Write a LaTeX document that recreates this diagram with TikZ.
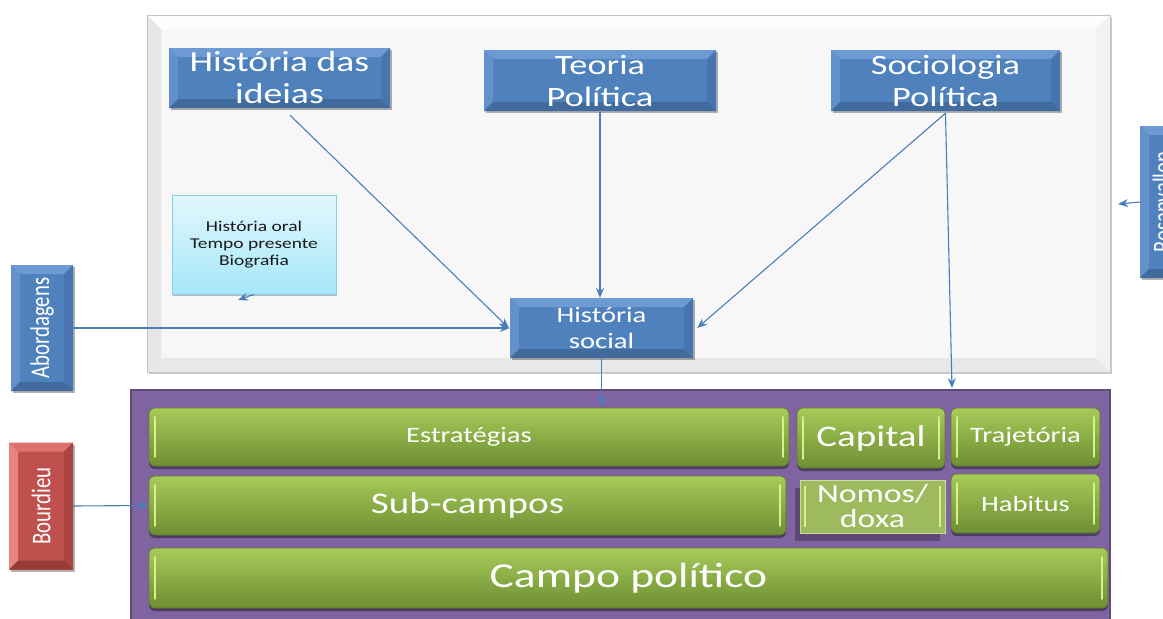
\documentclass[tikz,border=0pt]{standalone}
\usepackage{fontspec}
\setmainfont{Carlito}[FakeStretch=1.3]
\newfontfamily\rotfont{Carlito}[FakeStretch=0.77]
\usetikzlibrary{arrows.meta,calc,shadows}
\definecolor{bluemain}{HTML}{4F81BD}
\definecolor{bluetop}{HTML}{6D9AD3}
\definecolor{blueleft}{HTML}{6490CB}
\definecolor{blueright}{HTML}{4875AF}
\definecolor{bluebot}{HTML}{416A9D}
\definecolor{redmain}{HTML}{C0504D}
\definecolor{redtop}{HTML}{DB726E}
\definecolor{redleft}{HTML}{E8847F}
\definecolor{redright}{HTML}{A94542}
\definecolor{redbot}{HTML}{973A37}
\definecolor{arrowblue}{HTML}{4A7EBB}
\definecolor{greentop}{HTML}{A6CB59}
\definecolor{greenbot}{HTML}{6E8E33}
\definecolor{greenhl}{HTML}{D9F08C}
\definecolor{greenedge}{HTML}{5E7A2B}
\definecolor{nomosfill}{HTML}{9DBB5E}
\definecolor{nomosedge}{HTML}{C9DC98}
\definecolor{purplefill}{HTML}{8064A2}
\definecolor{purpleedge}{HTML}{5F4A7B}
\definecolor{cyantop}{HTML}{E2F7FD}
\definecolor{cyanbot}{HTML}{A6E7F9}
\definecolor{cyanedge}{HTML}{86CFE4}
\definecolor{graymain}{HTML}{F7F7F7}
\definecolor{graytop}{HTML}{FDFDFD}
\definecolor{grayleft}{HTML}{E6E6E6}
\definecolor{grayright}{HTML}{F2F2F2}
\definecolor{graybot}{HTML}{E8E8E8}
\definecolor{grayedge}{HTML}{C4C4C4}
\tikzset{
  bevel/.style n args={6}{fill=#1,
    path picture={
      \coordinate (bvA) at (path picture bounding box.north west);
      \coordinate (bvB) at (path picture bounding box.north east);
      \coordinate (bvC) at (path picture bounding box.south east);
      \coordinate (bvD) at (path picture bounding box.south west);
      \fill[#2] (bvA) -- (bvB) -- ([shift={(-#6,-#6)}]bvB) -- ([shift={(#6,-#6)}]bvA) -- cycle;
      \fill[#3] (bvA) -- ([shift={(#6,-#6)}]bvA) -- ([shift={(#6,#6)}]bvD) -- (bvD) -- cycle;
      \fill[#4] (bvB) -- (bvC) -- ([shift={(-#6,#6)}]bvC) -- ([shift={(-#6,-#6)}]bvB) -- cycle;
      \fill[#5] (bvD) -- (bvC) -- ([shift={(-#6,#6)}]bvC) -- ([shift={(#6,#6)}]bvD) -- cycle;
    }},
  bluebox/.style={bevel={bluemain}{bluetop}{blueleft}{blueright}{bluebot}{9pt},
    inner sep=0pt, text=white, align=center,
    drop shadow={shadow xshift=1.5pt, shadow yshift=-2pt, opacity=0.3, fill=black}},
  redbox/.style={bevel={redmain}{redtop}{redleft}{redright}{redbot}{9pt},
    inner sep=0pt, text=white, align=center,
    drop shadow={shadow xshift=1.5pt, shadow yshift=-2pt, opacity=0.3, fill=black}},
  greenbox/.style={rounded corners=6pt, top color=greentop, bottom color=greenbot,
    draw=greenedge, line width=0.6pt, inner sep=0pt, text=white, align=center,
    path picture={
      \draw[greenhl, line width=1.6pt, line cap=round]
        ([shift={(6pt,-9pt)}]path picture bounding box.north west) --
        ([shift={(6pt,9pt)}]path picture bounding box.south west);
      \draw[greenhl, line width=1.6pt, line cap=round]
        ([shift={(-6pt,-9pt)}]path picture bounding box.north east) --
        ([shift={(-6pt,9pt)}]path picture bounding box.south east);
    },
    drop shadow={shadow xshift=0pt, shadow yshift=-3pt, opacity=0.4, fill=black}},
  conn/.style={draw=arrowblue, line width=1.1pt, -{Stealth[length=10pt,width=8pt]}},
}
\begin{document}
\begin{tikzpicture}[x=1pt,y=-1pt]
\useasboundingbox (0,0) rectangle (1163,619);
% backgrounds
\node[draw=purpleedge, line width=2pt, fill=purplefill, minimum width=979pt, minimum height=250pt, inner sep=0pt] (field) at (620.5,515) {};
\node[bevel={graymain}{graytop}{grayleft}{grayright}{graybot}{14pt}, draw=grayedge, line width=0.8pt,
  minimum width=963pt, minimum height=357pt, inner sep=0pt,
  drop shadow={shadow xshift=2pt, shadow yshift=-2pt, opacity=0.2, fill=black}] (panel) at (628.5,193.5) {};
% blue boxes
\node[bluebox, minimum width=221pt, minimum height=60pt, font=\fontsize{29}{32}\selectfont] (hid) at (279.5,78) {História das\\ideias};
\node[bluebox, minimum width=232pt, minimum height=61pt, font=\fontsize{28}{32}\selectfont] (tp) at (600,80.5) {Teoria\\Política};
\node[bluebox, minimum width=229pt, minimum height=61pt, font=\fontsize{28}{32}\selectfont] (sp) at (945.5,80.5) {Sociologia\\Política};
\node[bluebox, minimum width=183pt, minimum height=60pt, font=\fontsize{22}{26}\selectfont] (hsoc) at (601.5,328) {História\\social};
\node[bluebox, minimum width=62pt, minimum height=126pt] (abd) at (42,328) {\rotatebox{90}{\rotfont\fontsize{27}{30}\selectfont Abordagens}};
\node[bluebox, minimum width=44pt, minimum height=152pt] (ros) at (1162,202) {\rotatebox{90}{\rotfont\fontsize{27}{30}\selectfont Rosanvallon}};
\node[redbox, minimum width=64pt, minimum height=127pt] (bou) at (41,506) {\rotatebox{90}{\rotfont\fontsize{27}{30}\selectfont Bourdieu}};
% light box
\node[top color=cyantop, bottom color=cyanbot, draw=cyanedge, line width=0.8pt,
  minimum width=164pt, minimum height=99pt, inner sep=0pt, align=center, text=black!90,
  font=\fontsize{15}{17}\selectfont,
  drop shadow={shadow xshift=1pt, shadow yshift=-2pt, opacity=0.25, fill=black}] (hor) at (254,244.5) {História oral\\Tempo presente\\Biografia};
% green boxes
\node[greenbox, minimum width=640pt, minimum height=58pt, font=\fontsize{22}{26}\selectfont] (estr) at (469,437) {Estratégias};
\node[greenbox, minimum width=148pt, minimum height=60pt, font=\fontsize{30}{34}\selectfont] (cap) at (871,438) {Capital};
\node[greenbox, minimum width=149pt, minimum height=58pt, font=\fontsize{22}{26}\selectfont] (traj) at (1025.5,437) {Trajetória};
\node[greenbox, minimum width=637pt, minimum height=59pt, font=\fontsize{30}{34}\selectfont] (sub) at (467.5,505.5) {Sub-campos};
\node[fill=nomosfill, draw=nomosedge, line width=0.8pt, minimum width=145pt, minimum height=53pt, inner sep=0pt,
  text=white, align=center, font=\fontsize{26}{25}\selectfont,
  drop shadow={shadow xshift=-5pt, shadow yshift=-8pt, opacity=0.28, fill=black},
  path picture={\draw[greenhl, line width=1.4pt] ([shift={(5pt,-6pt)}]path picture bounding box.north west) -- ([shift={(5pt,6pt)}]path picture bounding box.south west);
    \draw[greenhl, line width=1.4pt] ([shift={(-5pt,-6pt)}]path picture bounding box.north east) -- ([shift={(-5pt,6pt)}]path picture bounding box.south east);}] (nom) at (872.5,506.5) {Nomos/\\doxa};
\node[greenbox, minimum width=149pt, minimum height=59pt, font=\fontsize{22}{26}\selectfont] (hab) at (1025.5,503.5) {Habitus};
\node[greenbox, minimum width=959pt, minimum height=60pt, font=\fontsize{35}{40}\selectfont] (campo) at (628.5,578) {Campo político};
% connector ends
\coordinate (sdown) at (952,388);
\coordinate (hdown) at (601.5,406);
\coordinate (rosend) at (1118,204);
\coordinate (oend) at (238,300);
% connectors
\draw[conn] ([shift={(10.5pt,-7pt)}]hid.south) -- ([xshift=-1pt]hsoc.west);
\draw[conn] ([yshift=-1pt]tp.south) -- (tp.south |- hsoc.north);
\draw[conn] ([yshift=-2pt]sp.south) -- ([xshift=4pt]hsoc.east);
\draw[conn] ([yshift=-2pt]sp.south) -- (sdown);
\draw[conn] (abd.east) -- (hsoc.west);
\draw[conn] (hsoc.south) -- (hdown);
\draw[conn] (ros.west) -- (rosend);
\draw[conn] (bou.east) -- (sub.west);
\draw[conn] (hor.south) -- (oend);
\end{tikzpicture}
\end{document}
